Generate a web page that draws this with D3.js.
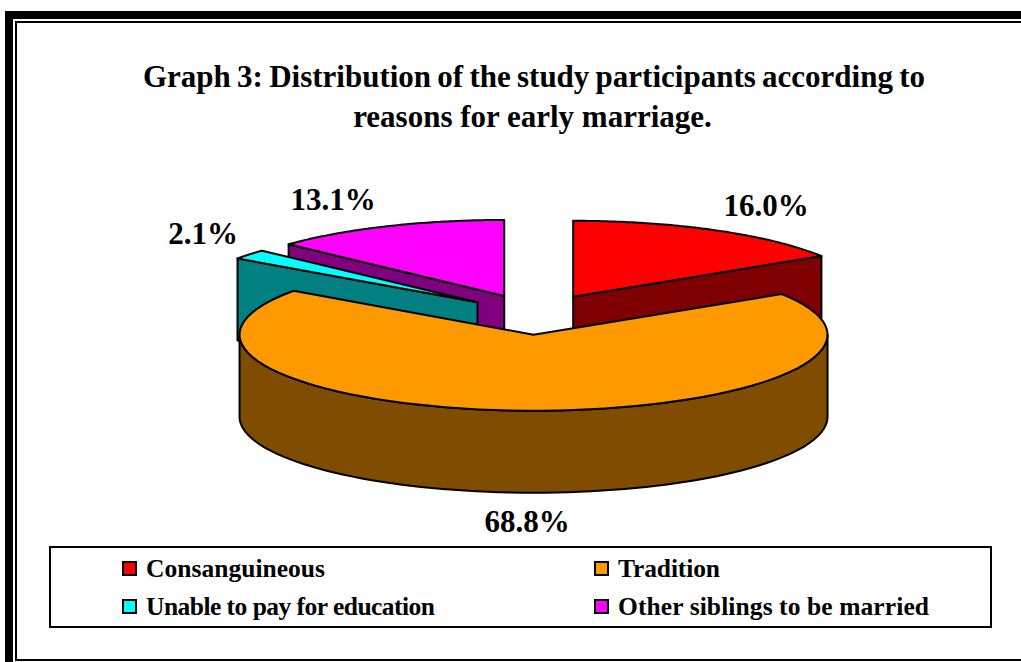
<!DOCTYPE html>
<html>
<head>
<meta charset="utf-8">
<script src="https://cdn.jsdelivr.net/npm/d3@7"></script>
<style>
html,body{margin:0;padding:0;background:#fff;}
svg{display:block;}
text{font-family:"Liberation Serif","Times New Roman",serif;font-weight:bold;fill:#000;}
</style>
</head>
<body>
<svg id="chart" width="1021" height="662"></svg>
<script>
const titleLines = ["Graph 3: Distribution of the study participants according to", "reasons for early marriage."];
const categories = ["Consanguineous", "Tradition", "Unable to pay for education", "Other siblings to be married"];
const values = [16.0, 68.8, 2.1, 13.1];
const topColors = ["#ff0000", "#ff9900", "#00ffff", "#ff00ff"];
const wallColors = ["#7f0000", "#7f4c00", "#008080", "#800080"];
const explode = [0.266, 0.266, 0.254, 0.266];
const labelAnchors = [[766, 216], [527, 532], [203, 244], [333, 210]];
const legendAnchors = [[123, 562], [595, 562], [123, 600], [595, 600]];
const legendTextWidths = [179, 102, 289, 311];

const cx = 535.5, cy = 314.5, rx = 294, ry = 76, depth = 82;
const svg = d3.select("#chart");

// frame
svg.append("rect").attr("x", 9).attr("y", 15).attr("width", 1030).attr("height", 700).attr("fill", "none").attr("stroke", "#000").attr("stroke-width", 8);
svg.append("rect").attr("x", 16).attr("y", 22).attr("width", 1030).attr("height", 638).attr("fill", "#fff").attr("stroke", "#000").attr("stroke-width", 2);

// title
svg.append("text").attr("x", 534).attr("y", 87).attr("text-anchor", "middle").attr("font-size", 31).attr("word-spacing", "-1.5").text(titleLines[0]);
svg.append("text").attr("x", 532.5).attr("y", 127).attr("text-anchor", "middle").attr("font-size", 31).text(titleLines[1]);

const arcs = d3.pie().value(d => d).sort(null)(values);
const project = (a, r, c) => [c[0] + rx * r * Math.sin(a), c[1] - ry * r * Math.cos(a)];
const line = d3.line();
const centerOf = (d, i) => {
  const mid = (d.startAngle + d.endAngle) / 2;
  return project(mid, explode[i], [cx, cy]);
};
const arcPts = (a0, a1, c) => d3.range(0, 81).map(k => project(a0 + (a1 - a0) * k / 80, 1, c));
const shade = (sel, fill) => sel.attr("fill", fill).attr("stroke", "#000").attr("stroke-width", 2).attr("stroke-linejoin", "round");

const drawOrder = [3, 2, 0, 1];
drawOrder.forEach(i => {
  const d = arcs[i], c = centerOf(d, i);
  const g = svg.append("g");
  const p0 = project(d.startAngle, 1, c), p1 = project(d.endAngle, 1, c);
  const down = p => [p[0], p[1] + depth];
  // cut face that looks toward the viewer
  if (i === 0) shade(g.append("path").attr("d", line([c, p1, down(p1), down(c)]) + "Z"), wallColors[i]);
  if (i === 2 || i === 3) shade(g.append("path").attr("d", line([c, p0, down(p0), down(c)]) + "Z"), wallColors[i]);
  // outer rim facing viewer
  if (i === 1) {
    const rim = arcPts(Math.PI / 2, 3 * Math.PI / 2, c);
    shade(g.append("path").attr("d", line(rim.concat(rim.slice().reverse().map(down))) + "Z"), wallColors[i]);
  }
  // top face
  shade(g.append("path").attr("d", line([c].concat(arcPts(d.startAngle, d.endAngle, c))) + "Z"), topColors[i]);
});

// value labels
values.forEach((v, i) => svg.append("text").attr("x", labelAnchors[i][0]).attr("y", labelAnchors[i][1]).attr("text-anchor", "middle").attr("font-size", 31).text(d3.format(".1f")(v) + "%"));

// legend
svg.append("rect").attr("x", 50).attr("y", 547).attr("width", 941).attr("height", 80).attr("fill", "#fff").attr("stroke", "#000").attr("stroke-width", 2);
categories.forEach((t, i) => {
  const [lx, ly] = legendAnchors[i];
  svg.append("rect").attr("x", lx).attr("y", ly).attr("width", 13).attr("height", 13).attr("fill", topColors[i]).attr("stroke", "#000").attr("stroke-width", 2);
  svg.append("text").attr("x", lx + 23).attr("y", ly + 15).attr("font-size", 25.5).attr("textLength", legendTextWidths[i]).attr("lengthAdjust", "spacing").text(t);
});
</script>
</body>
</html>
